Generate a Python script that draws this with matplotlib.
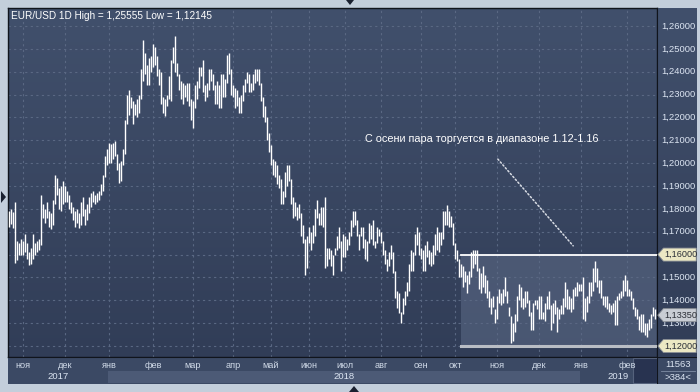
import numpy as np
import matplotlib.pyplot as plt
from matplotlib.colors import LinearSegmentedColormap
from matplotlib.patches import Rectangle, Polygon

plt.rcParams['font.family'] = ['Liberation Sans', 'DejaVu Sans']

# daily high / low of EUR/USD, one block per month (Oct 2017 .. Feb 2019)
highs_oct17 = [1.1790, 1.1800, 1.1785, 1.1830, 1.1660, 1.1650, 1.1670]
lows_oct17 = [1.1720, 1.1735, 1.1715, 1.1565, 1.1575, 1.1600, 1.1600]
highs_nov17 = [1.1660, 1.1690, 1.1650, 1.1610, 1.1630, 1.1690, 1.1650, 1.1660, 1.1670, 1.1860, 1.1820,
               1.1800, 1.1830, 1.1790, 1.1780, 1.1840, 1.1950, 1.1935, 1.1890, 1.1900, 1.1920]
lows_nov17 = [1.1600, 1.1610, 1.1580, 1.1555, 1.1560, 1.1580, 1.1600, 1.1610, 1.1620, 1.1640, 1.1760,
              1.1740, 1.1760, 1.1720, 1.1710, 1.1730, 1.1820, 1.1860, 1.1800, 1.1790, 1.1820]
highs_dec17 = [1.1900, 1.1880, 1.1860, 1.1830, 1.1810, 1.1790, 1.1800, 1.1780, 1.1830, 1.1850, 1.1800,
               1.1820, 1.1850, 1.1870, 1.1880, 1.1860, 1.1870, 1.1880, 1.1910, 1.1950, 1.2030, 1.2060]
lows_dec17 = [1.1830, 1.1830, 1.1800, 1.1780, 1.1750, 1.1720, 1.1740, 1.1715, 1.1730, 1.1770, 1.1730,
              1.1750, 1.1780, 1.1810, 1.1830, 1.1820, 1.1830, 1.1840, 1.1860, 1.1880, 1.1940, 1.1990]
highs_jan18 = [1.2090, 1.2085, 1.2090, 1.2095, 1.2040, 1.2000, 1.2010, 1.2060, 1.2190, 1.2300, 1.2320,
               1.2290, 1.2270, 1.2260, 1.2280, 1.2300, 1.2410, 1.2540, 1.2480, 1.2430, 1.2460, 1.2470]
lows_jan18 = [1.2000, 1.2000, 1.2020, 1.2030, 1.1970, 1.1915, 1.1920, 1.1990, 1.2040, 1.2170, 1.2210,
              1.2240, 1.2170, 1.2210, 1.2200, 1.2220, 1.2280, 1.2360, 1.2390, 1.2340, 1.2340, 1.2400]
highs_feb18 = [1.2520, 1.2510, 1.2470, 1.2410, 1.2400, 1.2290, 1.2280, 1.2300, 1.2380, 1.2450,
               1.2510, 1.25555, 1.2440, 1.2390, 1.2360, 1.2350, 1.2340, 1.2350, 1.2350, 1.2280]
lows_feb18 = [1.2420, 1.2430, 1.2380, 1.2340, 1.2260, 1.2220, 1.2205, 1.2250, 1.2280, 1.2270,
              1.2440, 1.2400, 1.2380, 1.2320, 1.2280, 1.2260, 1.2290, 1.2270, 1.2250, 1.2190]
highs_mar18 = [1.2270, 1.2340, 1.2360, 1.2420, 1.2420, 1.2450, 1.2340, 1.2350, 1.2410, 1.2410,
               1.2390, 1.2340, 1.2360, 1.2340, 1.2390, 1.2390, 1.2370, 1.2475, 1.2480, 1.2410]
lows_mar18 = [1.2155, 1.2240, 1.2280, 1.2330, 1.2380, 1.2310, 1.2270, 1.2290, 1.2320, 1.2360,
              1.2320, 1.2260, 1.2260, 1.2240, 1.2240, 1.2290, 1.2290, 1.2350, 1.2390, 1.2300]
highs_apr18 = [1.2340, 1.2330, 1.2320, 1.2290, 1.2300, 1.2340, 1.2370, 1.2400, 1.2390, 1.2350,
               1.2390, 1.2410, 1.2410, 1.2410, 1.2350, 1.2290, 1.2250, 1.2200, 1.2130]
lows_apr18 = [1.2290, 1.2240, 1.2250, 1.2220, 1.2220, 1.2270, 1.2310, 1.2350, 1.2310, 1.2310,
              1.2320, 1.2350, 1.2360, 1.2340, 1.2270, 1.2200, 1.2180, 1.2100, 1.2050]
highs_may18 = [1.2080, 1.2020, 1.2010, 1.1990, 1.1950, 1.1930, 1.1880, 1.1960, 1.1990, 1.1990,
               1.1930, 1.1850, 1.1830, 1.1810, 1.1820, 1.1780, 1.1730, 1.1670, 1.1680]
lows_may18 = [1.1990, 1.1950, 1.1940, 1.1910, 1.1890, 1.1820, 1.1820, 1.1850, 1.1900, 1.1920,
              1.1820, 1.1760, 1.1770, 1.1750, 1.1760, 1.1680, 1.1650, 1.1510, 1.1540]
highs_jun18 = [1.1720, 1.1700, 1.1730, 1.1800, 1.1840, 1.1780, 1.1810, 1.1810, 1.1850,
               1.1630, 1.1630, 1.1620, 1.1600, 1.1630, 1.1680, 1.1720, 1.1660, 1.1690]
lows_jun18 = [1.1650, 1.1620, 1.1650, 1.1680, 1.1760, 1.1730, 1.1730, 1.1720, 1.1540,
              1.1550, 1.1580, 1.1550, 1.1510, 1.1600, 1.1620, 1.1630, 1.1530, 1.1590]
highs_jul18 = [1.1680, 1.1670, 1.1700, 1.1750, 1.1790, 1.1790, 1.1750, 1.1690, 1.1720,
               1.1720, 1.1670, 1.1660, 1.1740, 1.1730, 1.1750, 1.1660, 1.1720, 1.1710]
lows_jul18 = [1.1590, 1.1620, 1.1640, 1.1680, 1.1720, 1.1730, 1.1680, 1.1620, 1.1680,
              1.1630, 1.1580, 1.1570, 1.1650, 1.1670, 1.1640, 1.1630, 1.1650, 1.1680]
highs_aug18 = [1.1700, 1.1660, 1.1620, 1.1580, 1.1610, 1.1640, 1.1610, 1.1530, 1.1440, 1.1430,
               1.1350, 1.1410, 1.1440, 1.1480, 1.1560, 1.1620, 1.1610, 1.1690, 1.1720, 1.1700]
lows_aug18 = [1.1650, 1.1600, 1.1560, 1.1530, 1.1550, 1.1580, 1.1520, 1.1410, 1.1365, 1.1345,
              1.1301, 1.1340, 1.1380, 1.1420, 1.1440, 1.1530, 1.1530, 1.1600, 1.1640, 1.1600]
highs_sep18 = [1.1630, 1.1620, 1.1640, 1.1660, 1.1620, 1.1610, 1.1640, 1.1690, 1.1720,
               1.1700, 1.1700, 1.1790, 1.1790, 1.1815, 1.1790, 1.1770, 1.1740]
lows_sep18 = [1.1580, 1.1530, 1.1530, 1.1590, 1.1560, 1.1550, 1.1560, 1.1600, 1.1620,
              1.1610, 1.1640, 1.1670, 1.1730, 1.1730, 1.1720, 1.1720, 1.1640]
highs_oct18 = [1.1650, 1.1620, 1.1580, 1.1560, 1.1550, 1.1530, 1.1510, 1.1530, 1.1610, 1.1620, 1.1620,
               1.1620, 1.1540, 1.1520, 1.1550, 1.1510, 1.1490, 1.1440, 1.1410, 1.1420, 1.1360]
lows_oct18 = [1.1580, 1.1570, 1.1500, 1.1500, 1.1460, 1.1480, 1.1430, 1.1470, 1.1500, 1.1540, 1.1560,
              1.1530, 1.1450, 1.1430, 1.1460, 1.1430, 1.1410, 1.1370, 1.1340, 1.1370, 1.1300]
highs_nov18 = [1.1420, 1.1450, 1.1430, 1.1450, 1.1500, 1.1440, 1.1370, 1.1330, 1.1300, 1.1340, 1.1420,
               1.1470, 1.1460, 1.1410, 1.1440, 1.1440, 1.1400, 1.1350, 1.1390, 1.1400, 1.1400]
lows_nov18 = [1.1320, 1.1390, 1.1380, 1.1390, 1.1420, 1.1390, 1.1330, 1.12145, 1.1220, 1.1260, 1.1310,
              1.1400, 1.1370, 1.1360, 1.1370, 1.1390, 1.1330, 1.1270, 1.1270, 1.1380, 1.1360]
highs_dec18 = [1.1420, 1.1420, 1.1350, 1.1390, 1.1420, 1.1440, 1.1380, 1.1390, 1.1400, 1.1370, 1.1360,
               1.1380, 1.1410, 1.1480, 1.1450, 1.1420, 1.1410, 1.1450, 1.1460, 1.1480, 1.1470]
lows_dec18 = [1.1320, 1.1320, 1.1320, 1.1310, 1.1360, 1.1360, 1.1270, 1.1300, 1.1340, 1.1260, 1.1320,
              1.1340, 1.1340, 1.1370, 1.1360, 1.1360, 1.1350, 1.1360, 1.1420, 1.1420, 1.1440]
highs_jan19 = [1.1470, 1.1500, 1.1410, 1.1420, 1.1480, 1.1480, 1.1540, 1.1570, 1.1540, 1.1490, 1.1490, 1.1420,
               1.1420, 1.1420, 1.1390, 1.1380, 1.1390, 1.1400, 1.1420, 1.1430, 1.1440, 1.1490, 1.1510]
lows_jan19 = [1.1440, 1.1320, 1.1310, 1.1350, 1.1390, 1.1420, 1.1440, 1.1480, 1.1460, 1.1430, 1.1410, 1.1380,
              1.1370, 1.1360, 1.1350, 1.1340, 1.1350, 1.1290, 1.1290, 1.1400, 1.1410, 1.1420, 1.1440]
highs_feb19 = [1.1490, 1.1450, 1.1440, 1.1410, 1.1370, 1.1360, 1.1330, 1.1340,
               1.1340, 1.1300, 1.1300, 1.1320, 1.1340, 1.1370, 1.1360]
lows_feb19 = [1.1420, 1.1420, 1.1400, 1.1360, 1.1330, 1.1320, 1.1270, 1.1260,
              1.1260, 1.1250, 1.1240, 1.1270, 1.1280, 1.1330, 1.1320]

month_highs = [highs_oct17, highs_nov17, highs_dec17, highs_jan18, highs_feb18, highs_mar18, highs_apr18,
               highs_may18, highs_jun18, highs_jul18, highs_aug18, highs_sep18, highs_oct18, highs_nov18,
               highs_dec18, highs_jan19, highs_feb19]
month_lows = [lows_oct17, lows_nov17, lows_dec17, lows_jan18, lows_feb18, lows_mar18, lows_apr18,
              lows_may18, lows_jun18, lows_jul18, lows_aug18, lows_sep18, lows_oct18, lows_nov18,
              lows_dec18, lows_jan19, lows_feb19]
month_names = ['окт', 'ноя', 'дек', 'янв', 'фев', 'мар', 'апр', 'май', 'июн', 'июл', 'авг', 'сен',
               'окт', 'ноя', 'дек', 'янв', 'фев']
years = ['2017', '2018', '2019']

last_close = 1.1335
range_lo, range_hi = 1.12, 1.16
title = 'EUR/USD 1D High = 1,25555 Low = 1,12145'
note = 'С осени пара торгуется в диапазоне 1.12-1.16'

highs = np.concatenate(month_highs)
lows = np.concatenate(month_lows)
n = len(highs)
x = np.arange(n)
month_start = np.cumsum([0] + [len(m) for m in month_highs[:-1]])
year_start = [0, month_start[3], month_start[15], n]

W, H = 700, 392
fig = plt.figure(figsize=(W / 100, H / 100), dpi=100)
fig.patch.set_facecolor('#C3CEDB')

xlim = (-0.5, n - 0.5 + 0.5)
ylim = (1.11519, 1.26788)
px = lambda v: v / W
py = lambda v: v / H

# main price area
ax = fig.add_axes([px(8), py(35), px(649), py(349)])
cmap = LinearSegmentedColormap.from_list('bg', ['#313D57', '#41506C'])
ax.imshow(np.linspace(0, 1, 256).reshape(-1, 1), extent=[xlim[0], xlim[1], ylim[0], ylim[1]],
          origin='lower', aspect='auto', cmap=cmap, zorder=0)
ax.set_xlim(xlim)
ax.set_ylim(ylim)
ax.set_xticks([])
ax.set_yticks([])
for s in ax.spines.values():
    s.set_color('#10141c')
    s.set_linewidth(1)

grid_levels = np.round(np.arange(1.12, 1.2601, 0.01), 2)
for lv in grid_levels:
    ax.axhline(lv, color='#5A6883', lw=0.8, ls=(0, (2, 3)), zorder=1)
for ms in month_start[1:]:
    ax.axvline(ms, color='#5A6883', lw=0.8, ls=(0, (2, 3)), zorder=1)

# range box since autumn
box_x0 = month_start[12] + 3
ax.add_patch(Rectangle((box_x0, range_lo), xlim[1] - box_x0, range_hi - range_lo,
                       facecolor='#5A6884', alpha=0.6, edgecolor='none', zorder=2))
ax.plot([box_x0, xlim[1]], [range_hi, range_hi], color='white', lw=1.3, zorder=4)
ax.plot([box_x0, xlim[1]], [range_lo, range_lo], color='#B9BDC4', lw=2.2, zorder=4)

ax.vlines(x, lows, highs, color='white', lw=1.0, zorder=3)

ax.text(0.004, 0.978, title, transform=ax.transAxes, color='white', fontsize=7.2,
        ha='left', va='center', zorder=5)
ax.text(month_start[9] + 10, 1.2106, note, color='white', fontsize=7.8, ha='left', va='center', zorder=5)
ax.annotate('', xy=(month_start[14] + 18, 1.1629), xytext=(month_start[13] - 0.5, 1.2027),
            arrowprops=dict(arrowstyle='-', color='#D8DCE4', lw=1.1, ls=(0, (1, 1.5))), zorder=5)

# right price scale
axr = fig.add_axes([px(657), py(35), px(40), py(349)])
axr.imshow(np.linspace(0, 1, 256).reshape(-1, 1), extent=[0, 1, ylim[0], ylim[1]],
           origin='lower', aspect='auto', cmap=cmap, zorder=0)
axr.set_xlim(0, 1)
axr.set_ylim(ylim)
axr.set_xticks([])
axr.set_yticks([])
for s in axr.spines.values():
    s.set_visible(False)
axr.axvline(0, color='#10141c', lw=1.5)
for lv in grid_levels:
    if lv in (range_lo, range_hi):
        continue  # covered by the tags
    axr.text(0.1, lv, f'{lv:.5f}'.replace('.', ','), color='#DCE5F2', fontsize=6.8,
             ha='left', va='center', zorder=1)

h = 6.5 * (ylim[1] - ylim[0]) / 349
for lv, fc in [(range_hi, '#ECE8C4'), (range_lo, '#ECE8C4'), (last_close, '#C9CDD4')]:
    axr.add_patch(Polygon([(0.02, lv), (0.16, lv + h), (0.98, lv + h), (0.98, lv - h), (0.16, lv - h)],
                          closed=True, facecolor=fc, edgecolor='#8A8F96', lw=0.6, zorder=3))
    axr.text(0.18, lv, f'{lv:.5f}'.replace('.', ','), color='#2A2E36', fontsize=6.6,
             ha='left', va='center', zorder=4)

# bottom time scale
axb = fig.add_axes([px(8), py(8), px(649), py(27)])
axb.set_xlim(xlim)
axb.set_ylim(0, 1)
axb.set_facecolor('#3B4964')
axb.set_xticks([])
axb.set_yticks([])
for s in axb.spines.values():
    s.set_visible(False)
axb.axhline(1, color='#10141c', lw=1.5)
year_colors = ['#3B4964', '#4C5A76', '#3B4964']
for i, yr in enumerate(years):
    a, b = year_start[i], year_start[i + 1]
    axb.add_patch(Rectangle((a - 0.5, 0.04), b - a, 0.46, facecolor=year_colors[i], edgecolor='none'))
    axb.text((a + b) / 2 - 0.5, 0.26, yr, color='#DCE5F2', fontsize=6.8, ha='center', va='center')
for ms, name in zip(month_start[1:], month_names[1:]):
    axb.text(ms, 0.7, name, color='#D0DAE8', fontsize=6.6, ha='center', va='center')
axb.add_patch(Rectangle((n - 12, 0.04), 12.5, 0.92, facecolor='#283350', edgecolor='#55627C', lw=0.8))

# corner box
axc = fig.add_axes([px(657), py(8), px(40), py(27)])
axc.set_xlim(0, 1)
axc.set_ylim(0, 1)
axc.set_facecolor('#3B4964')
axc.set_xticks([])
axc.set_yticks([])
for s in axc.spines.values():
    s.set_visible(False)
axc.axvline(0, color='#10141c', lw=1.5)
axc.axhline(1, color='#10141c', lw=1.5)
axc.text(0.52, 0.72, '11563', color='#DCE5F2', fontsize=6.8, ha='center', va='center')
axc.plot([0.1, 0.95], [0.48, 0.48], color='#7F8CA4', lw=0.6)
axc.text(0.52, 0.25, '>384<', color='#DCE5F2', fontsize=6.8, ha='center', va='center')

# little scroll arrows in the frame
fig.patches.append(Polygon([(px(346), py(392)), (px(354), py(392)), (px(350), py(387))],
                           closed=True, transform=fig.transFigure, facecolor='#1A2030'))
fig.patches.append(Polygon([(px(1), py(201)), (px(1), py(189)), (px(6), py(195))],
                           closed=True, transform=fig.transFigure, facecolor='#1A2030'))
fig.patches.append(Polygon([(px(349), py(0)), (px(359), py(0)), (px(354), py(6))],
                           closed=True, transform=fig.transFigure, facecolor='#1A2030'))

fig.savefig('out.png', dpi=100)
